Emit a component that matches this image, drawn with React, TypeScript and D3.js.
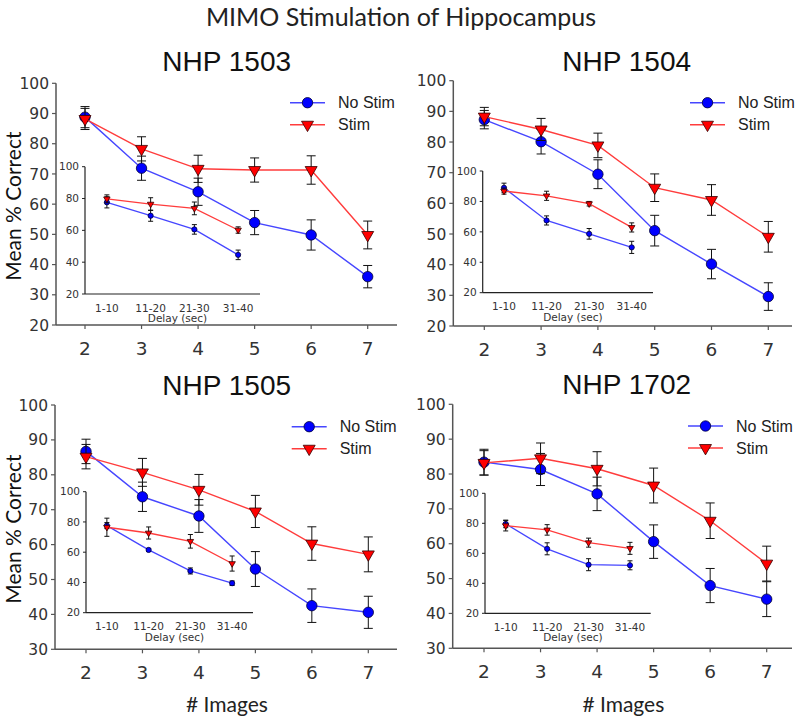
import * as d3 from 'd3';

const images = [2, 3, 4, 5, 6, 7];
const delays = ['1-10', '11-20', '21-30', '31-40'];
const yTicksTop = [20, 30, 40, 50, 60, 70, 80, 90, 100];
const yTicksBottom = [30, 40, 50, 60, 70, 80, 90, 100];
const insetTicks = [20, 40, 60, 80, 100];
const animals = ['NHP 1503', 'NHP 1504', 'NHP 1505', 'NHP 1702'];

// main plots: mean % correct vs # images
const noStim1503 = [88.8, 71.9, 64.1, 53.9, 49.8, 36.0];
const noStim1503Err = [3.5, 4, 4.5, 4, 5, 3.7];
const stim1503 = [88.2, 78.3, 71.7, 71.3, 71.3, 49.8];
const stim1503Err = [3.5, 4, 4.5, 4, 4.7, 4.6];

const noStim1504 = [87.3, 80.1, 69.5, 51.1, 40.2, 29.6];
const noStim1504Err = [3, 4, 4.7, 5, 4.8, 4.5];
const stim1504 = [88.3, 84.1, 78.9, 65.1, 61.1, 49.1];
const stim1504Err = [3, 3.6, 4, 4.5, 5, 5];

const noStim1505 = [86.7, 73.7, 68.2, 53.0, 42.5, 40.6];
const noStim1505Err = [3.5, 4.2, 4.7, 5, 4.8, 4.6];
const stim1505 = [85.2, 80.7, 75.7, 69.5, 60.3, 57.2];
const stim1505Err = [3.5, 4, 4.4, 4.6, 4.8, 5];

const noStim1702 = [83.4, 81.3, 74.3, 60.6, 48.0, 44.1];
const noStim1702Err = [3.7, 4.6, 4.8, 4.8, 4.9, 5];
const stim1702 = [83.2, 84.5, 81.5, 76.7, 66.6, 54.3];
const stim1702Err = [3.5, 4.4, 4.9, 5, 5.1, 5];

// insets: mean % correct vs delay
const inNo1503 = [77.6, 69.2, 60.6, 44.6];
const inNo1503Err = [3.5, 3.5, 3, 3];
const inStim1503 = [79.8, 76.5, 73.8, 60.2];
const inStim1503Err = [2.5, 4, 4, 2];

const inNo1504 = [89, 67.5, 58.7, 49.8];
const inNo1504Err = [3, 3, 3.5, 4];
const inStim1504 = [86.8, 83.7, 78.5, 62.9];
const inStim1504Err = [2, 3, 1.5, 3];

const inNo1505 = [77.6, 61.5, 47.6, 39.5];
const inNo1505Err = [2, 1, 2, 1.5];
const inStim1505 = [76.5, 72.7, 67.2, 52.5];
const inStim1505Err = [6, 4, 4.5, 5];

const inNo1702 = [79.6, 63, 52.4, 52];
const inNo1702Err = [2.5, 4, 4, 3];
const inStim1702 = [78.4, 75.6, 67.1, 63.3];
const inStim1702Err = [3.5, 3.5, 3, 4];

const BLUE = '#0000ff';
const RED = '#ff0000';
const BLUE_LINE = '#4646ff';
const RED_LINE = '#ff3c3c';
const AXIS = '#555';
const TXT = '#333';
const TICK_FONT = '"DejaVu Sans", sans-serif';
const ARIAL = '"Liberation Sans", Arial, sans-serif';
const CAL = 'Lato, "Open Sans", sans-serif';

const panels = [
  {
    title: animals[0], no: noStim1503, noErr: noStim1503Err, st: stim1503, stErr: stim1503Err,
    inNo: inNo1503, inNoErr: inNo1503Err, inSt: inStim1503, inStErr: inStim1503Err,
    ticks: yTicksTop,
    box: { ax: 56, x0: 85, x1: 367.7, right: 397, yTop: 83.3, yBot: 325, titleX: 226.7, titleY: 71 },
    inset: { ax: 85, yTop: 166.7, yBot: 294, right: 260 },
    legend: { x: 290, y: 102.7 },
    yLabel: true, xLabel: false,
  },
  {
    title: animals[1], no: noStim1504, noErr: noStim1504Err, st: stim1504, stErr: stim1504Err,
    inNo: inNo1504, inNoErr: inNo1504Err, inSt: inStim1504, inStErr: inStim1504Err,
    ticks: yTicksTop,
    box: { ax: 453.3, x0: 484.3, x1: 768.3, right: 792, yTop: 80.7, yBot: 326, titleX: 626.7, titleY: 71 },
    inset: { ax: 482.7, yTop: 171, yBot: 292.7, right: 653 },
    legend: { x: 690, y: 102.7 },
    yLabel: false, xLabel: false,
  },
  {
    title: animals[2], no: noStim1505, noErr: noStim1505Err, st: stim1505, stErr: stim1505Err,
    inNo: inNo1505, inNoErr: inNo1505Err, inSt: inStim1505, inStErr: inStim1505Err,
    ticks: yTicksBottom,
    box: { ax: 55, x0: 86, x1: 368.3, right: 397, yTop: 405, yBot: 649.3, titleX: 226.7, titleY: 395 },
    inset: { ax: 86, yTop: 491.7, yBot: 612.7, right: 253 },
    legend: { x: 291.7, y: 426.7 },
    yLabel: true, xLabel: true,
  },
  {
    title: animals[3], no: noStim1702, noErr: noStim1702Err, st: stim1702, stErr: stim1702Err,
    inNo: inNo1702, inNoErr: inNo1702Err, inSt: inStim1702, inStErr: inStim1702Err,
    ticks: yTicksBottom,
    box: { ax: 452.7, x0: 484, x1: 766.7, right: 792, yTop: 404.3, yBot: 648.3, titleX: 626.7, titleY: 394.3 },
    inset: { ax: 485, yTop: 493.3, yBot: 613.3, right: 650.7 },
    legend: { x: 688, y: 426 },
    yLabel: false, xLabel: true,
  },
];

const triPath = (size: number) => d3.symbol().type(d3.symbolTriangle).size(size)() as string;

function Marker({ kind, cx, cy, small }: any) {
  if (kind === 'circle') {
    return <circle cx={cx} cy={cy} r={small ? 2.6 : 5.2} fill={BLUE} stroke="#000033" strokeWidth={0.8} />;
  }
  return (
    <path
      d={triPath(small ? 18 : 62)}
      transform={`translate(${cx},${cy}) rotate(180)`}
      fill={RED}
      stroke="#330000"
      strokeWidth={0.8}
    />
  );
}

function Series({ px, y, vals, errs, kind, small }: any) {
  const line = d3.line<number>().x((_, i) => px(i)).y(d => y(d));
  const cap = small ? 2.5 : 4.5;
  return (
    <g>
      <path d={line(vals) as string} fill="none" stroke={kind === 'circle' ? BLUE_LINE : RED_LINE} strokeWidth={small ? 1.3 : 1.4} />
      {vals.map((v: number, i: number) => {
        const x = px(i);
        const hi = y(v + errs[i]);
        const lo = y(v - errs[i]);
        return (
          <g key={i} stroke="#111" strokeWidth={1}>
            <line x1={x} x2={x} y1={hi} y2={lo} />
            <line x1={x - cap} x2={x + cap} y1={hi} y2={hi} />
            <line x1={x - cap} x2={x + cap} y1={lo} y2={lo} />
          </g>
        );
      })}
      {vals.map((v: number, i: number) => (
        <Marker key={'m' + i} kind={kind} cx={px(i)} cy={y(v)} small={small} />
      ))}
    </g>
  );
}

function Panel({ p }: any) {
  const { box, inset, legend } = p;
  const x = d3.scaleLinear().domain([2, 7]).range([box.x0, box.x1]);
  const y = d3.scaleLinear().domain([p.ticks[0], 100]).range([box.yBot, box.yTop]);
  const ix = d3.scalePoint<string>().domain(delays).range([inset.ax, inset.right]).padding(0.5);
  const iy = d3.scaleLinear().domain([20, 100]).range([inset.yBot, inset.yTop]);
  const mainX = (i: number) => x(images[i]);
  const inX = (i: number) => ix(delays[i]) as number;

  return (
    <g>
      <text x={box.titleX} y={box.titleY} textAnchor="middle" fontFamily={ARIAL} fontSize={28} fill="#111">
        {p.title}
      </text>

      {/* inset axes */}
      <g>
        <line x1={inset.ax} x2={inset.ax} y1={inset.yTop} y2={inset.yBot} stroke="#222" strokeWidth={1.2} />
        <line x1={inset.ax} x2={inset.right} y1={inset.yBot} y2={inset.yBot} stroke="#222" strokeWidth={1.2} />
        {insetTicks.map(t => (
          <g key={t}>
            <line x1={inset.ax - 3} x2={inset.ax} y1={iy(t)} y2={iy(t)} stroke="#222" />
            <text x={inset.ax - 6} y={iy(t)} dy="0.35em" textAnchor="end" fontFamily={TICK_FONT} fontSize={10.5} fill={TXT}>
              {t}
            </text>
          </g>
        ))}
        {delays.map(d => (
          <text key={d} x={ix(d)} y={inset.yBot + 17.5} textAnchor="middle" fontFamily={TICK_FONT} fontSize={10.5} fill={TXT}>
            {d}
          </text>
        ))}
        <text x={(inset.ax + inset.right) / 2 + 5} y={inset.yBot + 28} textAnchor="middle" fontFamily={TICK_FONT} fontSize={10.5} fill={TXT}>
          Delay (sec)
        </text>
        <Series px={inX} y={iy} vals={p.inNo} errs={p.inNoErr} kind="circle" small />
        <Series px={inX} y={iy} vals={p.inSt} errs={p.inStErr} kind="tri" small />
      </g>

      {/* main axes */}
      <line x1={box.ax} x2={box.ax} y1={box.yTop} y2={box.yBot} stroke={AXIS} strokeWidth={1.5} />
      <line x1={box.ax} x2={box.right} y1={box.yBot} y2={box.yBot} stroke={AXIS} strokeWidth={1.5} />
      {p.ticks.map((t: number) => (
        <g key={t}>
          <line x1={box.ax - 4} x2={box.ax} y1={y(t)} y2={y(t)} stroke={AXIS} strokeWidth={1.2} />
          <text x={box.ax - 7} y={y(t)} dy="0.36em" textAnchor="end" fontFamily={TICK_FONT} fontSize={15.5} fill={TXT}>
            {t}
          </text>
        </g>
      ))}
      {images.map(v => (
        <g key={v}>
          <line x1={x(v)} x2={x(v)} y1={box.yBot} y2={box.yBot + 4} stroke={AXIS} strokeWidth={1.2} />
          <text x={x(v)} y={box.yBot + 30} textAnchor="middle" fontFamily={TICK_FONT} fontSize={18.5} fill={TXT}>
            {v}
          </text>
        </g>
      ))}

      <Series px={mainX} y={y} vals={p.no} errs={p.noErr} kind="circle" />
      <Series px={mainX} y={y} vals={p.st} errs={p.stErr} kind="tri" />

      {/* legend */}
      <g>
        <line x1={legend.x} x2={legend.x + 35} y1={legend.y} y2={legend.y} stroke={BLUE_LINE} strokeWidth={1.4} />
        <Marker kind="circle" cx={legend.x + 17.5} cy={legend.y} />
        <text x={legend.x + 48} y={legend.y} dy="0.36em" fontFamily={ARIAL} fontSize={16} fill="#222">No Stim</text>
        <line x1={legend.x} x2={legend.x + 35} y1={legend.y + 22} y2={legend.y + 22} stroke={RED_LINE} strokeWidth={1.4} />
        <Marker kind="tri" cx={legend.x + 17.5} cy={legend.y + 22} />
        <text x={legend.x + 48} y={legend.y + 22} dy="0.36em" fontFamily={ARIAL} fontSize={16} fill="#222">Stim</text>
      </g>

      {p.yLabel && (
        <text
          transform={`translate(21,${(box.yTop + box.yBot) / 2 + 2}) rotate(-90)`}
          textAnchor="middle"
          fontFamily={CAL}
          fontSize={21}
          fill="#111"
        >
          Mean % Correct
        </text>
      )}
      {p.xLabel && (
        <text x={(box.ax + box.right) / 2 + 1} y={712} textAnchor="middle" fontFamily={CAL} fontSize={21} fill="#222">
          # Images
        </text>
      )}
    </g>
  );
}

export default function App() {
  return (
    <svg width={800} height={719} style={{ position: 'absolute', left: 0, top: 0, background: '#fff' }}>
      <rect width={800} height={719} fill="#fff" />
      <text x={401} y={26} textAnchor="middle" fontFamily={CAL} fontSize={25} fill="#222">
        MIMO Stimulation of Hippocampus
      </text>
      {panels.map(p => (
        <Panel key={p.title} p={p} />
      ))}
    </svg>
  );
}
